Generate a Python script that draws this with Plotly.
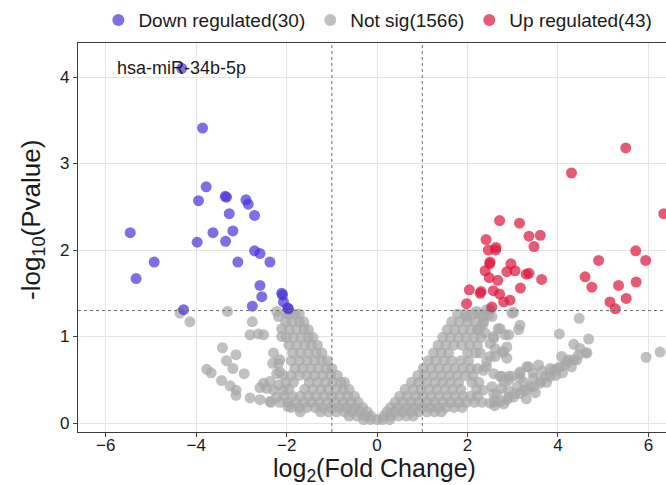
import plotly.graph_objects as go

# ---------------- data ----------------
down_x = [-4.32, -3.86, -3.78, -3.95, -3.36, -3.33, -2.90, -2.85, -3.27, -2.71,
          -5.46, -3.63, -3.19, -3.98, -3.35, -2.71, -2.59, -4.93, -3.08, -2.37,
          -5.33, -2.59, -2.55, -2.11, -2.07, -1.96, -2.76, -4.28, -1.98, -2.09]
down_y = [4.10, 3.41, 2.73, 2.57, 2.62, 2.61, 2.58, 2.53, 2.42, 2.40,
          2.20, 2.20, 2.22, 2.09, 2.10, 1.99, 1.96, 1.86, 1.86, 1.86,
          1.67, 1.59, 1.46, 1.50, 1.40, 1.32, 1.35, 1.31, 1.33, 1.48]

up_x = [5.50, 4.30, 6.34, 2.71, 3.15, 3.36, 3.61, 3.47, 2.41, 2.46,
        2.63, 2.62, 2.50, 2.49, 2.96, 2.39, 2.87, 3.05, 3.30, 3.36,
        2.48, 2.67, 3.64, 2.04, 2.28, 2.30, 2.57, 2.71, 3.17, 1.98,
        2.80, 2.94, 2.54, 4.90, 5.72, 5.94, 4.60, 4.75, 5.34, 5.73,
        5.15, 5.51, 5.27]
up_y = [3.18, 2.89, 2.42, 2.34, 2.31, 2.16, 2.17, 2.04, 2.12, 2.00,
        2.03, 2.00, 1.86, 1.84, 1.84, 1.76, 1.75, 1.76, 1.72, 1.73,
        1.68, 1.65, 1.66, 1.54, 1.50, 1.52, 1.53, 1.49, 1.56, 1.38,
        1.40, 1.42, 1.34, 1.88, 1.99, 1.88, 1.69, 1.57, 1.59, 1.63,
        1.40, 1.44, 1.32]

# not significant genes (representative points read from the grey cloud)
grey_x = [
    # left wing, dense part (row by row)
    -0.30, -0.15, 0.00,
    -0.62, -0.45, -0.28, -0.14,
    -1.25, -1.07, -0.90, -0.72, -0.55, -0.38, -0.22,
    -1.90, -1.72, -1.55, -1.37, -1.20, -1.02, -0.85, -0.68, -0.50, -0.32,
    -2.35, -2.15, -1.98, -1.80, -1.62, -1.45, -1.28, -1.10, -0.93, -0.75, -0.58, -0.42,
    -2.05, -1.87, -1.70, -1.52, -1.35, -1.17, -1.00, -0.82, -0.65, -0.50,
    -1.95, -1.60, -1.42, -1.25, -1.08, -0.90, -0.75, -0.62,
    -2.02, -1.85, -1.50, -1.32, -1.15, -0.98, -0.80, -0.72,
    -1.90, -1.72, -1.55, -1.38, -1.20, -1.03, -0.88,
    -1.82, -1.65, -1.47, -1.30, -1.13, -1.00,
    -1.90, -1.72, -1.55, -1.38, -1.22, -1.10,
    -1.87, -1.70, -1.52, -1.35, -1.22,
    -1.95, -1.78, -1.60, -1.45, -1.32,
    -2.00, -1.85, -1.68, -1.52, -1.42,
    -1.95, -1.78, -1.62, -1.52,
    -2.02, -1.88, -1.72, -1.62,
    -1.95, -1.82, -1.72,
    # left wing, scattered
    -4.36, -4.14, -3.31, -2.76, -2.81, -2.63, -2.51, -3.42, -3.12, -3.33,
    -3.19, -2.94, -3.77, -3.67, -3.44, -3.25, -3.12, -3.12, -2.81, -2.59,
    -2.37, -2.29, -2.18, -2.31, -2.37, -2.59, -2.44, -2.18, -2.22, -2.15,
    -2.11, -2.11, -2.18, -2.22, -2.00, -2.15, -2.22, -2.07, -2.51, -2.29,
    -2.07, -1.97, -1.70,
    # right wing, dense part (row by row)
    0.12, 0.28,
    0.15, 0.30, 0.47, 0.64, 0.80,
    0.22, 0.40, 0.57, 0.75, 0.92, 1.10, 1.27, 1.42,
    0.30, 0.47, 0.65, 0.82, 1.00, 1.17, 1.35, 1.52, 1.70, 1.88,
    0.40, 0.57, 0.75, 0.92, 1.10, 1.27, 1.45, 1.62, 1.80, 1.97, 2.15, 2.32,
    0.50, 0.67, 0.85, 1.02, 1.20, 1.37, 1.55, 1.72, 1.90, 2.07, 2.22,
    0.62, 0.80, 0.97, 1.15, 1.32, 1.50, 1.67, 1.85, 2.20,
    0.76, 0.93, 1.10, 1.28, 1.45, 1.62, 1.80, 2.10, 2.25,
    0.90, 1.07, 1.25, 1.42, 1.60, 1.77, 1.95, 2.12,
    1.02, 1.20, 1.37, 1.55, 1.72, 1.90, 2.07, 2.22,
    1.13, 1.30, 1.48, 1.65, 1.85, 2.02,
    1.25, 1.42, 1.58, 2.00, 2.18,
    1.35, 1.52, 1.70, 1.87, 2.05, 2.22,
    1.45, 1.62, 1.80, 1.97, 2.15, 2.30,
    1.55, 1.72, 1.90, 2.07, 2.22,
    1.65, 1.82, 2.00, 2.17, 2.35,
    1.78, 1.95, 2.12, 2.30,
    # right wing, scattered
    2.20, 2.50, 2.98, 3.16, 3.13, 2.72, 2.91, 2.87, 2.58, 2.61,
    2.76, 2.87, 2.28, 2.50, 2.42, 2.58, 2.76, 2.91,
    3.16, 3.31, 3.46, 3.61, 3.83, 3.90, 4.05, 4.20, 4.35, 4.46,
    4.64, 3.02, 2.87, 2.72, 2.50, 2.60,
    3.02, 4.47, 4.03, 4.68, 4.35, 4.49, 4.62, 5.95, 6.26, 4.42,
    4.23, 4.08, 4.16, 3.98, 3.83, 3.57, 3.35, 3.16, 3.72, 3.46,
    3.61, 3.16, 2.98, 2.91, 2.80, 3.38, 3.24, 3.05, 2.91, 2.68,
    2.83, 2.58, 2.39, 2.50, 2.80, 2.61, 2.42, 2.35, 2.72, 2.54,
    2.35, 2.58, 2.42, 2.54, 2.35, 2.35, 1.98, 2.46, 2.26, 3.31,
    3.16,
    # right lower band, second row
    3.10, 3.25, 3.45, 3.65, 3.75, 3.95, 4.10, 4.30, 3.50, 3.30,
    2.60, 2.80, 2.90, 2.65, 2.75,
]
grey_y = [
    0.04, 0.04, 0.04,
    0.08, 0.08, 0.08, 0.08,
    0.13, 0.13, 0.13, 0.13, 0.13, 0.13, 0.13,
    0.18, 0.18, 0.18, 0.18, 0.18, 0.18, 0.18, 0.18, 0.18, 0.18,
    0.24, 0.24, 0.24, 0.24, 0.24, 0.24, 0.24, 0.24, 0.24, 0.24, 0.24, 0.24,
    0.31, 0.31, 0.31, 0.31, 0.31, 0.31, 0.31, 0.31, 0.31, 0.31,
    0.39, 0.39, 0.39, 0.39, 0.39, 0.39, 0.39, 0.39,
    0.47, 0.47, 0.47, 0.47, 0.47, 0.47, 0.47, 0.47,
    0.55, 0.55, 0.55, 0.55, 0.55, 0.55, 0.55,
    0.63, 0.63, 0.63, 0.63, 0.63, 0.63,
    0.72, 0.72, 0.72, 0.72, 0.72, 0.72,
    0.81, 0.81, 0.81, 0.81, 0.81,
    0.90, 0.90, 0.90, 0.90, 0.90,
    0.99, 0.99, 0.99, 0.99, 0.99,
    1.08, 1.08, 1.08, 1.08,
    1.17, 1.17, 1.17, 1.17,
    1.26, 1.26, 1.26,
    1.27, 1.17, 1.29, 1.17, 1.02, 1.03, 1.02, 0.87, 0.79, 0.72,
    0.63, 0.57, 0.62, 0.58, 0.49, 0.43, 0.38, 0.32, 0.29, 0.27,
    0.25, 0.81, 0.69, 0.69, 0.48, 0.41, 0.40, 0.44, 0.30, 0.59,
    1.00, 1.09, 1.23, 1.29, 1.27, 0.73, 0.57, 0.55, 0.46, 0.38,
    0.38, 0.19, 0.13,
    0.04, 0.04,
    0.08, 0.08, 0.08, 0.08, 0.08,
    0.13, 0.13, 0.13, 0.13, 0.13, 0.13, 0.13, 0.13,
    0.18, 0.18, 0.18, 0.18, 0.18, 0.18, 0.18, 0.18, 0.18, 0.18,
    0.24, 0.24, 0.24, 0.24, 0.24, 0.24, 0.24, 0.24, 0.24, 0.24, 0.24, 0.24,
    0.31, 0.31, 0.31, 0.31, 0.31, 0.31, 0.31, 0.31, 0.31, 0.31, 0.31,
    0.39, 0.39, 0.39, 0.39, 0.39, 0.39, 0.39, 0.39, 0.39,
    0.47, 0.47, 0.47, 0.47, 0.47, 0.47, 0.47, 0.47, 0.47,
    0.55, 0.55, 0.55, 0.55, 0.55, 0.55, 0.55, 0.55,
    0.63, 0.63, 0.63, 0.63, 0.63, 0.63, 0.63, 0.63,
    0.72, 0.72, 0.72, 0.72, 0.72, 0.72,
    0.81, 0.81, 0.81, 0.81, 0.81,
    0.90, 0.90, 0.90, 0.90, 0.90, 0.90,
    0.99, 0.99, 0.99, 0.99, 0.99, 0.99,
    1.08, 1.08, 1.08, 1.08, 1.08,
    1.17, 1.17, 1.17, 1.17, 1.17,
    1.26, 1.26, 1.26, 1.26,
    1.29, 1.31, 1.27, 1.13, 1.08, 1.09, 1.02, 0.88, 0.98, 0.86,
    0.82, 0.75, 0.81, 0.77, 0.65, 0.57, 0.54, 0.54,
    0.34, 0.38, 0.42, 0.46, 0.54, 0.61, 0.65, 0.71, 0.73, 0.79,
    0.81, 0.30, 0.27, 0.25, 0.23, 0.25,
    1.28, 1.21, 1.03, 0.97, 0.91, 0.86, 0.81, 0.76, 0.82, 0.73,
    0.73, 0.77, 0.67, 0.63, 0.63, 0.67, 0.65, 0.59, 0.54, 0.52,
    0.48, 0.52, 0.54, 0.50, 0.48, 0.42, 0.38, 0.34, 0.30, 1.09,
    1.02, 1.00, 1.04, 0.92, 0.82, 0.77, 0.71, 0.61, 0.54, 0.42,
    0.38, 0.34, 1.31, 1.23, 1.23, 1.15, 1.23, 1.25, 1.09, 0.65,
    0.57,
    0.42, 0.47, 0.58, 0.60, 0.47, 0.55, 0.58, 0.65, 0.35, 0.28,
    0.20, 0.22, 0.38, 0.33, 0.40,
]

x_ticks = [-6, -4, -2, 0, 2, 4, 6]
y_ticks = [0, 1, 2, 3, 4]
label_gene = "hsa-miR-34b-5p"
label_x, label_y = -4.32, 4.10
fc_cut = 1.0
p_cut = 1.3

# ---------------- figure ----------------
FONT = "Liberation Sans, Arial, Helvetica, sans-serif"
msize = 11

fig = go.Figure()
fig.add_trace(go.Scatter(
    x=grey_x, y=grey_y, mode="markers", name="Not sig(1566)", legendrank=2,
    marker=dict(color="rgb(168,168,168)", size=msize, opacity=0.72,
                line=dict(width=0)),
    hoverinfo="skip"))
fig.add_trace(go.Scatter(
    x=down_x, y=down_y, mode="markers", name="Down regulated(30)", legendrank=1,
    marker=dict(color="rgb(72,50,220)", size=msize, opacity=0.7,
                line=dict(width=0))))
fig.add_trace(go.Scatter(
    x=up_x, y=up_y, mode="markers", name="Up regulated(43)", legendrank=3,
    marker=dict(color="rgb(220,20,60)", size=msize, opacity=0.7,
                line=dict(width=0))))

line_style = dict(color="rgb(110,110,110)", width=1, dash="dot")
for xv in (-fc_cut, fc_cut):
    fig.add_shape(type="line", xref="x", yref="paper", x0=xv, x1=xv, y0=0, y1=1,
                  line=line_style, layer="above")
fig.add_shape(type="line", xref="paper", yref="y", x0=0, x1=1, y0=p_cut, y1=p_cut,
              line=line_style, layer="above")

fig.add_annotation(x=label_x, y=label_y, text=label_gene, showarrow=False,
                   font=dict(family=FONT, size=18, color="#1a1a1a"),
                   xanchor="center", yanchor="middle")

# axis titles, placed where the reference shows them
fig.add_annotation(x=-0.0765, y=0.545, xref="paper", yref="paper",
                   text="-log<sub>10</sub>(Pvalue)", textangle=-90, showarrow=False,
                   font=dict(family=FONT, size=26, color="#1a1a1a"),
                   xanchor="center", yanchor="middle")
fig.add_annotation(x=0.505, y=-0.0965, xref="paper", yref="paper",
                   text="log<sub>2</sub>(Fold Change)", showarrow=False,
                   font=dict(family=FONT, size=25, color="#1a1a1a"),
                   xanchor="center", yanchor="middle")

axis_common = dict(
    showgrid=True, gridcolor="rgb(229,229,229)", gridwidth=1,
    zeroline=False, showline=True, linecolor="rgb(60,60,60)", linewidth=1.2,
    ticks="outside", ticklen=4, tickcolor="rgb(60,60,60)", tickwidth=1.2,
    tickfont=dict(family=FONT, size=17, color="#1a1a1a"),
    automargin=False,
)

fig.update_layout(
    width=666, height=485,
    margin=dict(l=78, r=0, t=43, b=53),
    paper_bgcolor="white", plot_bgcolor="white",
    font=dict(family=FONT, color="#1a1a1a"),
    xaxis=dict(axis_common, range=[-6.615, 6.39], tickvals=x_ticks, mirror=True,
               ticklabelstandoff=-7),
    yaxis=dict(axis_common, range=[-0.104, 4.393], tickvals=y_ticks, mirror=False),
    legend=dict(orientation="h", x=0.51, xanchor="center", y=1.059, yanchor="middle",
                font=dict(family=FONT, size=19, color="#1a1a1a"),
                bgcolor="rgba(0,0,0,0)", itemsizing="constant"),
    showlegend=True,
)

fig.write_html("out.html")
